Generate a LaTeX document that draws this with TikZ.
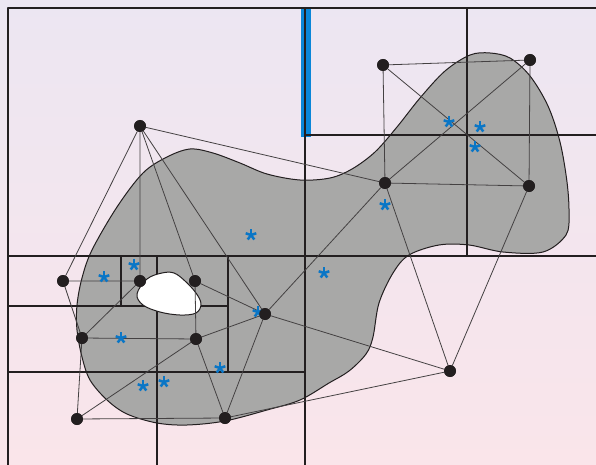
\documentclass[tikz,border=0pt]{standalone}
\usepackage{tikz}
\usepackage{xcolor}
\definecolor{bgtop}{HTML}{ECE6F2}
\definecolor{bgbot}{HTML}{FAE5EA}
\definecolor{blobgray}{HTML}{A8A8A7}
\definecolor{inkdark}{HTML}{231F20}
\definecolor{ptblue}{HTML}{0A76C6}
\definecolor{barblue}{HTML}{0A86D8}

\begin{document}
\begin{tikzpicture}[x=1pt,y=-1pt,line cap=round,line join=round,
  vert/.style={circle,fill=inkdark,inner sep=0pt,minimum size=12pt},
  quad/.style={inkdark,line width=1.5pt,line cap=butt},
  edge/.style={inkdark!85,line width=0.8pt},
  ast/.pic={\foreach \a in {270,342,198,126,54} \draw[ptblue,line width=2.5pt,line cap=butt] (0,0) -- (\a:5.6);}]
\useasboundingbox (0,0) rectangle (596,465);
\shade[top color=bgtop,bottom color=bgbot] (0,0) rectangle (596,465);
% region
\draw[fill=blobgray,draw=inkdark,line width=1pt] plot[smooth cycle,tension=0.55] coordinates {
  (190,149) (213,153) (240,163) (267,174) (300,180) (330,178) (352,169) (375,152) (397,127)
  (420,98) (445,71) (470,55) (490,53) (510,58) (530,76) (548,106) (560,142) (567,182) (569,213)
  (566,235) (543,252) (503,252) (469,245) (439,245) (409,255) (393,273) (379,303) (373,337)
  (366,354) (349,371) (329,383) (300,400) (267,410) (225,421) (187,425) (157,423) (127,414)
  (107,400) (90,380) (82,357) (77,330) (77,305) (82,278) (92,250) (117,207) (143,173) (167,157)};
\fill[barblue] (301,8) rectangle (311,137);
% quadtree cells
\draw[quad] (305,8) -- (305,465);
\draw[quad] (8,256) -- (596,256);
\draw[quad] (467,8) -- (467,256);
\draw[quad] (305,135) -- (596,135);
\draw[quad] (8,372) -- (305,372);
\draw[quad] (157,256) -- (157,465);
\draw[quad] (8,306) -- (228,306);
\draw[quad] (228,256) -- (228,372);
\draw[quad] (121,256) -- (121,306);
\draw[fill=white,draw=inkdark,line width=1pt] plot[smooth cycle,tension=0.6] coordinates {
  (137,294) (147,279) (162,273) (174,273) (185,281) (196,293) (201,304) (196,313) (180,315)
  (160,312) (143,305)};
\draw[inkdark,line width=2.4pt,line cap=butt] (596,8) -- (8,8) -- (8,465);
% graph
\node[vert] (a) at (140,126) {};
\node[vert] (b) at (383,65) {};
\node[vert] (c) at (530,60) {};
\node[vert] (d) at (385,183) {};
\node[vert] (e) at (529,186) {};
\node[vert] (f) at (63,281) {};
\node[vert] (g) at (140,281) {};
\node[vert] (h) at (195,281) {};
\node[vert] (m) at (265,314) {};
\node[vert] (k) at (82,338) {};
\node[vert] (l) at (196,339) {};
\node[vert] (p) at (450,371) {};
\node[vert] (q) at (77,419) {};
\node[vert] (r) at (225,418) {};
\draw[edge] (a) -- (f) (a) -- (g) (a) -- (h) (a) -- (m) (a) -- (d);
\draw[edge] (b) -- (c) (b) -- (d) (b) -- (e) (c) -- (d) (c) -- (e);
\draw[edge] (d) -- (e) (d) -- (m) (d) -- (p) (e) -- (p);
\draw[edge] (f) -- (g) (f) -- (k) (g) -- (k) (h) -- (m) (h) -- (l);
\draw[edge] (m) -- (l) (m) -- (r) (m) -- (p) (k) -- (l) (k) -- (q);
\draw[edge] (l) -- (q) (l) -- (r) (q) -- (r) (r) -- (p);
% sample points
\pic at (251,235) {ast};
\pic at (449,122) {ast};
\pic at (480,127) {ast};
\pic at (475,147) {ast};
\pic at (385,205) {ast};
\pic at (324,273) {ast};
\pic at (104,277) {ast};
\pic at (134,265) {ast};
\pic at (121,338) {ast};
\pic at (258,312) {ast};
\pic at (220,368) {ast};
\pic at (143,386) {ast};
\pic at (164,382) {ast};
\foreach \v in {a,b,c,d,e,f,g,h,m,k,l,p,q,r} \fill[inkdark] (\v) circle (5.8pt);
\end{tikzpicture}
\end{document}
